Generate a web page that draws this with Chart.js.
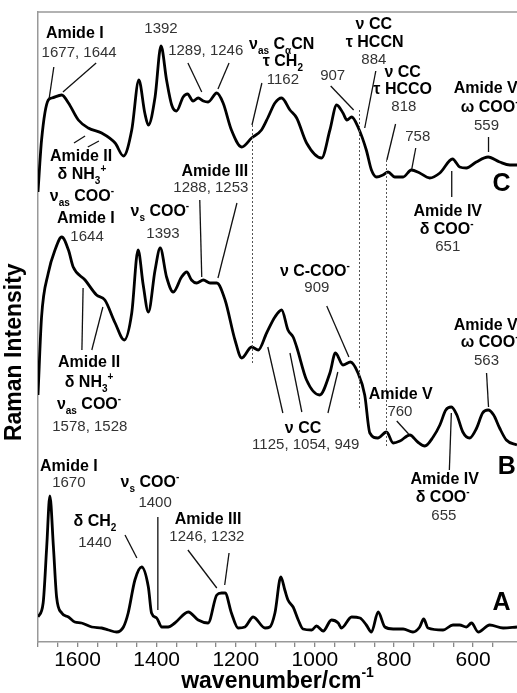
<!DOCTYPE html>
<html>
<head>
<meta charset="utf-8">
<script src="https://cdn.jsdelivr.net/npm/chart.js@4.4.0/dist/chart.umd.min.js"></script>
<style>
  html, body { margin: 0; padding: 0; background: #fff; }
</style>
</head>
<body>
<canvas id="c" width="517" height="693"></canvas>
<script>
// ── 数据：拉曼光谱（波数 cm-1 / 强度，任意单位，三条曲线上下错开）──
const wnC = [1700,1691,1674,1665,1640,1623,1598,1573,1539,1505,1484,1463,1445,1430,1421,1404,1389,1375,1362,1350,1333,1322,1308,1295,1282,1270,1248,1232,1211,1185,1160,1135,1118,1101,1084,1063,1046,1021,983,962,945,929,919,907,891,870,857,844,828,815,798,777,756,735,710,684,652,634,617,592,562,533,507,489];
const intC = [450,502,542,544,547,539,522,514,509,499,486,512,562,529,517,545,596,562,537,531,545,548,541,544,541,540,549,539,512,495,504,512,525,539,544,532,524,499,484,512,537,529,522,525,515,492,472,465,467,470,465,465,472,469,464,469,483,475,474,480,485,480,477,477];

const wnB = [1700,1691,1674,1657,1640,1623,1611,1581,1552,1531,1505,1482,1463,1447,1434,1421,1404,1391,1375,1358,1337,1324,1312,1299,1282,1265,1248,1227,1202,1185,1160,1143,1122,1101,1084,1068,1055,1046,1021,988,962,948,929,910,891,874,861,841,819,802,785,760,740,722,701,684,669,655,641,626,609,591,576,562,548,533,516,489];
const intB = [247,325,369,392,405,392,375,362,347,342,319,302,329,392,357,330,372,394,365,350,365,370,362,359,362,359,359,342,302,284,295,292,309,325,332,312,305,295,262,247,269,289,277,280,269,247,209,204,210,199,201,207,200,196,205,217,232,235,227,210,204,214,229,232,227,214,202,197];

const wnA = [1700,1687,1678,1670,1661,1653,1640,1623,1607,1590,1564,1539,1522,1501,1484,1472,1455,1438,1421,1413,1400,1387,1371,1354,1320,1295,1270,1248,1236,1227,1211,1194,1177,1156,1126,1114,1101,1086,1076,1068,1055,1042,1030,1008,996,979,958,941,933,907,886,870,857,840,823,802,777,752,735,725,714,676,651,634,617,604,587,558,524,489];
const intA = [25,39,95,146,95,45,29,25,20,19,15,14,12,10,15,29,62,75,55,29,24,15,15,19,30,22,19,47,49,49,29,14,15,25,14,15,29,65,52,42,35,22,13,12,16,11,22,19,14,25,24,17,10,30,15,13,13,10,15,23,14,12,17,17,15,19,10,17,14,15];

const tickLabels = [1600, 1400, 1200, 1000, 800, 600];

// ── 标注（文字, 波数, 强度, 粗体, 对齐）──
const notes = [
  ['Amide I', 1607, 608, 1], ['1677, 1644', 1596, 589, 0],
  ['1392', 1389, 613, 0], ['1289, 1246', 1276, 591, 0],
  ['ν_{as} C_{α}CN', 1084, 597, 1], ['τ CH_{2}', 1081, 580, 1], ['1162', 1081, 562, 0],
  ['907', 955, 566, 0],
  ['ν CC', 851, 617, 1], ['τ HCCN', 849, 599, 1], ['884', 851, 582, 0],
  ['ν CC', 778, 569, 1], ['τ HCCO', 778, 552, 1], ['818', 775, 535, 0],
  ['758', 740, 505, 0],
  ['Amide VI', 649, 553, 1, 'left'], ['ω COO^{-}', 631, 534, 1, 'left'], ['559', 566, 516, 0],
  ['Amide IV', 664, 430, 1], ['δ COO^{-}', 667, 412, 1], ['651', 664, 395, 0],
  ['Amide II', 1591, 485, 1], ['δ NH_{3}^{+}', 1589, 467, 1], ['ν_{as} COO^{-}', 1589, 445, 1],
  ['Amide I', 1579, 423, 1], ['1644', 1576, 405, 0],
  ['ν_{s} COO^{-}', 1392, 430, 1], ['1393', 1384, 408, 0],
  ['Amide III', 1253, 470, 1], ['1288, 1253', 1263, 454, 0],
  ['Amide II', 1571, 279, 1], ['δ NH_{3}^{+}', 1571, 259, 1], ['ν_{as} COO^{-}', 1571, 237, 1], ['1578, 1528', 1569, 215, 0],
  ['ν C-COO^{-}', 1000, 370, 1], ['909', 995, 354, 0],
  ['ν CC', 1030, 213, 1], ['1125, 1054, 949', 1023, 197, 0],
  ['Amide V', 783, 247, 1], ['760', 785, 230, 0],
  ['Amide IV', 672, 162, 1], ['δ COO^{-}', 677, 144, 1], ['655', 674, 126, 0],
  ['Amide VI', 649, 316, 1, 'left'], ['ω COO^{-}', 631, 299, 1, 'left'], ['563', 566, 281, 0],
  ['Amide I', 1622, 175, 1], ['1670', 1622, 159, 0],
  ['ν_{s} COO^{-}', 1417, 159, 1], ['1400', 1404, 139, 0],
  ['δ CH_{2}', 1556, 120, 1], ['1440', 1556, 99, 0],
  ['Amide III', 1270, 122, 1], ['1246, 1232', 1273, 105, 0],
];
const traceTags = [['C', 528, 458], ['B', 515, 175], ['A', 528, 39]];

// 引线 [x1, y1, x2, y2]（数据坐标）
const leaders = [
  [1660,575,1672,543], [1553,579,1637,550],
  [1321,579,1286,550], [1217,579,1245,553],
  [1134,559,1159,517], [960,556,902,532], [846,571,874,514],
  [796,518,818,482], [745,494,755,473], [561,505,561,490], [654,471,654,445],
  [1609,499,1581,506], [1574,495,1546,501],
  [1291,442,1286,365], [1197,439,1245,364],
  [1586,354,1589,292], [1536,335,1564,292],
  [970,336,914,285],
  [1119,295,1081,229], [1063,289,1033,230], [942,270,967,229],
  [793,221,763,208], [655,229,660,172], [566,269,561,235],
  [1397,125,1397,32], [1480,107,1450,84],
  [1321,92,1248,54], [1217,89,1228,57],
];
// 竖直虚线 [波数, 上端, 下端]
const dotted = [[1160,517,279], [889,532,234], [819,482,195]];

const FONT = '"Liberation Sans", Arial, Helvetica, sans-serif';

function richParts(s) {
  return s.split(/(_\{[^}]*\}|\^\{[^}]*\})/).filter(Boolean).map(p =>
    p.startsWith('_{') ? { t: p.slice(2, -1), m: 1 } :
    p.startsWith('^{') ? { t: p.slice(2, -1), m: -1 } : { t: p, m: 0 });
}

function drawRich(ctx, s, x, y, size, bold, align, color) {
  const parts = richParts(s);
  const f = sz => (bold ? 'bold ' : '') + sz + 'px ' + FONT;
  let w = 0;
  parts.forEach(p => {
    ctx.font = f(p.m ? Math.round(size * 0.62) : size);
    p.w = ctx.measureText(p.t).width;
    w += p.w;
  });
  let cx = align === 'left' ? x : x - w / 2;
  ctx.fillStyle = color;
  ctx.textBaseline = 'middle';
  ctx.textAlign = 'left';
  parts.forEach(p => {
    ctx.font = f(p.m ? Math.round(size * 0.62) : size);
    ctx.fillText(p.t, cx, y + p.m * size * 0.38);
    cx += p.w;
  });
}

const annotatePlugin = {
  id: 'annotate',
  afterDraw(chart) {
    const { ctx, chartArea: ca, scales: { x, y } } = chart;
    ctx.save();
    // 上边框
    ctx.strokeStyle = '#999';
    ctx.lineWidth = 1.5;
    ctx.beginPath();
    ctx.moveTo(ca.left, ca.top);
    ctx.lineTo(ca.right, ca.top);
    ctx.stroke();

    // 虚线
    ctx.strokeStyle = '#555';
    ctx.lineWidth = 1;
    ctx.setLineDash([2, 2]);
    dotted.forEach(([w, y1, y2]) => {
      const px = Math.round(x.getPixelForValue(w)) + 0.5;
      ctx.beginPath();
      ctx.moveTo(px, y.getPixelForValue(y1));
      ctx.lineTo(px, y.getPixelForValue(y2));
      ctx.stroke();
    });
    ctx.setLineDash([]);

    // 引线
    ctx.strokeStyle = '#111';
    ctx.lineWidth = 1.3;
    leaders.forEach(([x1, y1, x2, y2]) => {
      ctx.beginPath();
      ctx.moveTo(x.getPixelForValue(x1), y.getPixelForValue(y1));
      ctx.lineTo(x.getPixelForValue(x2), y.getPixelForValue(y2));
      ctx.stroke();
    });

    // 文字
    notes.forEach(([t, wx, wy, b, a]) => {
      drawRich(ctx, t, x.getPixelForValue(wx), y.getPixelForValue(wy), b ? 16 : 15, !!b, a || 'center', b ? '#000' : '#333');
    });
    traceTags.forEach(([t, wx, wy]) => {
      drawRich(ctx, t, x.getPixelForValue(wx), y.getPixelForValue(wy), 25, true, 'center', '#000');
    });

    // 坐标轴标题
    drawRich(ctx, 'wavenumber/cm^{-1}', (ca.left + ca.right) / 2, chart.height - 11, 23, true, 'center', '#000');
    ctx.translate(ca.left - 23, ca.top + ca.height * 0.54);
    ctx.rotate(-Math.PI / 2);
    drawRich(ctx, 'Raman Intensity', 0, 0, 23, true, 'center', '#000');
    ctx.restore();
  }
};

const toPts = (xs, ys) => xs.map((v, i) => ({ x: v, y: ys[i] }));
const lineStyle = {
  borderColor: '#000',
  borderWidth: 2.8,
  pointRadius: 0,
  fill: false,
  cubicInterpolationMode: 'monotone',
};

new Chart(document.getElementById('c'), {
  type: 'line',
  data: {
    datasets: [
      { label: 'C', data: toPts(wnC, intC), ...lineStyle },
      { label: 'B', data: toPts(wnB, intB), ...lineStyle },
      { label: 'A', data: toPts(wnA, intA), ...lineStyle },
    ]
  },
  options: {
    responsive: false,
    animation: false,
    devicePixelRatio: 1,
    layout: { padding: { top: 12, left: 0, right: 0, bottom: 0 } },
    plugins: { legend: { display: false }, tooltip: { enabled: false } },
    scales: {
      x: {
        type: 'linear',
        reverse: true,
        min: 489,
        max: 1700,
        afterBuildTicks: s => { s.ticks = s.ticks.filter(t => t.value % 50 === 0); },
        afterFit: s => { s.height = 51; },
        ticks: {
          stepSize: 50,
          autoSkip: false,
          maxRotation: 0,
          padding: 1,
          color: '#000',
          font: { family: FONT, size: 21 },
          callback: v => tickLabels.includes(v) ? String(v) : '',
        },
        grid: { display: true, drawOnChartArea: false, drawTicks: true, tickLength: 5, color: '#888', lineWidth: 1.3 },
        border: { display: true, color: '#999', width: 1.5 },
      },
      y: {
        min: 0,
        max: 630,
        ticks: { display: false },
        grid: { display: false },
        border: { display: true, color: '#999', width: 1.5 },
        afterFit: s => { s.width = 38; },
      }
    }
  },
  plugins: [annotatePlugin]
});
</script>
</body>
</html>
